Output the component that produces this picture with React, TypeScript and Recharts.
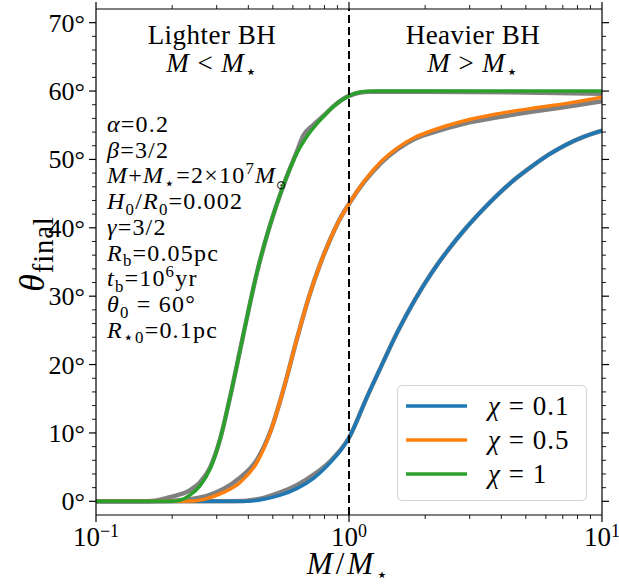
import React from 'react'
import { LineChart, Line, XAxis, YAxis, ReferenceLine, Legend } from 'recharts'

// chi = 0.1
const blueX = [0.1, 0.3, 0.396, 0.46, 0.535, 0.624, 0.726, 0.845, 0.92, 1.0, 1.07, 1.148, 1.339, 1.556, 1.816, 2.12, 2.48, 2.89, 3.37, 3.91, 4.56, 5.33, 6.22, 7.25, 8.45, 10]
const blueY = [0, 0, 0, 0.3, 0.9, 1.9, 3.4, 5.7, 7.3, 9.3, 11.6, 14.3, 19.7, 24.8, 29.4, 33.4, 36.9, 39.9, 42.6, 45.0, 47.2, 49.1, 50.8, 52.2, 53.3, 54.2]

// chi = 0.5
const orangeX = [0.1, 0.2, 0.242, 0.274, 0.319, 0.372, 0.433, 0.489, 0.552, 0.624, 0.693, 0.771, 0.845, 0.897, 1.0, 1.148, 1.339, 1.556, 1.816, 2.12, 2.89, 3.91, 5.33, 7.25, 10]
const orangeY = [0, 0, 0.05, 0.4, 1.3, 2.8, 5.7, 10.1, 16.5, 23.9, 29.8, 34.8, 38.4, 40.5, 43.5, 46.8, 49.7, 51.7, 53.2, 54.2, 55.7, 56.7, 57.5, 58.2, 59.1]

// chi = 1
const greenX = [0.1, 0.15, 0.2, 0.215, 0.235, 0.258, 0.283, 0.31, 0.34, 0.372, 0.401, 0.433, 0.474, 0.52, 0.569, 0.624, 0.683, 0.771, 0.871, 1.0, 1.13, 1.3, 1.6, 2.0, 3.0, 5.0, 10]
const greenY = [0, 0, 0, 0.15, 0.9, 2.3, 4.8, 9.2, 15.5, 22.3, 28.0, 33.5, 38.9, 43.6, 47.6, 51.0, 53.4, 55.8, 57.8, 59.3, 59.9, 60, 60, 60, 60, 60, 60]

// grey approximations drawn underneath
const grayBlueX = [0.1, 0.35, 0.46, 0.535, 0.624, 0.726, 0.845, 0.92, 1.0, 1.07, 1.148, 1.339, 1.556, 1.816, 2.12, 2.48, 2.89, 3.37, 3.91, 4.56, 5.33, 6.22, 7.25, 8.45, 10]
const grayBlueY = [0, 0, 0.5, 1.3, 2.4, 3.9, 5.9, 7.4, 9.3, 11.6, 14.3, 19.7, 24.8, 29.4, 33.4, 36.9, 39.9, 42.6, 45.0, 47.2, 49.1, 50.8, 52.2, 53.3, 54.2]
const grayOrangeX = [0.1, 0.18, 0.22, 0.274, 0.319, 0.372, 0.433, 0.489, 0.552, 0.624, 0.693, 0.771, 0.845, 0.897, 1.0, 1.148, 1.339, 1.556, 1.816, 2.12, 2.89, 3.91, 5.33, 7.25, 10]
const grayOrangeY = [0, 0, 0.2, 0.8, 1.8, 3.5, 6.1, 10.2, 16.5, 23.9, 29.8, 34.8, 38.4, 40.5, 43.5, 46.7, 49.5, 51.5, 53.0, 53.9, 55.3, 56.2, 57.0, 57.7, 58.5]
const grayGreenX = [0.1, 0.15, 0.171, 0.2, 0.235, 0.258, 0.283, 0.31, 0.34, 0.372, 0.401, 0.433, 0.474, 0.52, 0.569, 0.62, 0.66, 0.72, 0.8, 0.87, 1.0, 1.2, 2, 5, 10]
const grayGreenY = [0, 0, 0.1, 0.7, 1.6, 2.8, 5.0, 9.2, 15.5, 22.3, 28.0, 33.5, 38.9, 43.6, 47.6, 51.0, 53.5, 55.0, 56.5, 57.8, 59.3, 59.9, 59.9, 59.8, 59.6]

const xMajor = [0.1, 1, 10]
const xExp = ['\u22121', '0', '1']
const xMinor = [0.2, 0.3, 0.4, 0.5, 0.6, 0.7, 0.8, 0.9, 2, 3, 4, 5, 6, 7, 8, 9]
const yMajor = [0, 10, 20, 30, 40, 50, 60, 70]
const yMinor = [2, 4, 6, 8, 12, 14, 16, 18, 22, 24, 26, 28, 32, 34, 36, 38, 42, 44, 46, 48, 52, 54, 56, 58, 62, 64, 66, 68]

const chiLabels = ['0.1', '0.5', '1']
const colors = ['#1f77b4', '#ff7f0e', '#2ca02c']

const zip = (xs: number[], ys: number[]) => xs.map((x, i) => ({ x, y: ys[i] }))

const series = [
  { data: zip(blueX, blueY), grey: zip(grayBlueX, grayBlueY) },
  { data: zip(orangeX, orangeY), grey: zip(grayOrangeX, grayOrangeY) },
  { data: zip(greenX, greenY), grey: zip(grayGreenX, grayGreenY) },
]

const FONT = '"Liberation Serif", "Times New Roman", serif'
const xTicks = [...xMajor, ...xMinor].sort((a, b) => a - b)
const yTicks = [...yMajor, ...yMinor].sort((a, b) => a - b)
const isMajorX = (v: number) => xMajor.some(m => Math.abs(m - v) < 1e-9)

// parts: [text, flags] where flags may hold i (italic), b (subscript), p (superscript), o (tiny symbol)
type Part = [string, string?]
function Rich(props: { x: number; y: number; parts: Part[]; size: number; anchor?: string; ls?: number; transform?: string; subScale?: number }) {
  const { x, y, parts, size, anchor, ls, transform, subScale = 0.7 } = props
  let cur = 0
  return (
    <text x={x} y={y} fontSize={size} textAnchor={anchor as any} letterSpacing={ls} transform={transform}>
      {parts.map(([t, f = ''], i) => {
        const target = f.includes('b') ? size * 0.24 : f.includes('p') ? -size * 0.4 : 0
        const dy = target - cur
        cur = target
        const small = f.includes('b') || f.includes('p')
        const fs = f.includes('o') ? size * 0.5 : small ? size * subScale : size
        return (
          <tspan key={i} dy={dy || undefined} fontStyle={f.includes('i') ? 'italic' : 'normal'} fontSize={fs}>
            {t}
          </tspan>
        )
      })}
    </text>
  )
}

function BottomTick(props: any) {
  const { x, y, payload } = props
  const v = payload.value
  const major = isMajorX(v)
  const idx = xMajor.findIndex(m => Math.abs(m - v) < 1e-9)
  return (
    <g>
      <line x1={x} x2={x} y1={y} y2={y + (major ? 7 : 4)} stroke="#000" strokeWidth={major ? 1.2 : 0.9} />
      {major && (
        <text x={x} y={y + 31} textAnchor="middle" fontFamily={FONT} fontSize={27} fill="#000">
          10<tspan dy={-9} fontSize={18}>{xExp[idx]}</tspan>
        </text>
      )}
    </g>
  )
}

function TopTick(props: any) {
  const { x, y, payload } = props
  const major = isMajorX(payload.value)
  return <line x1={x} x2={x} y1={y} y2={y - (major ? 7 : 4)} stroke="#000" strokeWidth={major ? 1.2 : 0.9} />
}

function LeftTick(props: any) {
  const { x, y, payload } = props
  const v = payload.value
  const major = v % 10 === 0
  return (
    <g>
      <line x1={x} x2={x - (major ? 7 : 4)} y1={y} y2={y} stroke="#000" strokeWidth={major ? 1.2 : 0.9} />
      {major && (
        <text x={x - 11} y={y + 9} textAnchor="end" fontFamily={FONT} fontSize={26} fill="#000">
          {v}°
        </text>
      )}
    </g>
  )
}

function RightTick(props: any) {
  const { x, y, payload } = props
  const major = payload.value % 10 === 0
  return <line x1={x} x2={x + (major ? 7 : 4)} y1={y} y2={y} stroke="#000" strokeWidth={major ? 1.2 : 0.9} />
}

function LegendBox() {
  return (
    <div style={{ width: 190, height: 116, boxSizing: 'border-box', border: '1px solid #d4d4d4', borderRadius: 5, background: 'rgba(255,255,255,0.8)' }}>
      <svg width={188} height={114} style={{ display: 'block' }}>
        {chiLabels.map((c, i) => (
          <g key={c}>
            <line x1={8} x2={69} y1={20 + 34 * i} y2={20 + 34 * i} stroke={colors[i]} strokeWidth={3.5} />
            <text x={90} y={29 + 34 * i} fontFamily={FONT} fontSize={27} fill="#000" letterSpacing={1}>
              <tspan fontStyle="italic">χ</tspan>{' = '}{c}
            </text>
          </g>
        ))}
      </svg>
    </div>
  )
}

const params: Part[][] = [
  [['α', 'i'], ['=0.2']],
  [['β', 'i'], ['=3/2']],
  [['M', 'i'], ['+'], ['M', 'i'], ['⋆', 'b'], ['=2×10'], ['7', 'p'], ['M', 'i'], ['⊙', 'bo']],
  [['H', 'i'], ['0', 'b'], ['/'], ['R', 'i'], ['0', 'b'], ['=0.002']],
  [['γ', 'i'], ['=3/2']],
  [['R', 'i'], ['b', 'b'], ['=0.05pc']],
  [['t', 'i'], ['b', 'b'], ['=10'], ['6', 'p'], ['yr']],
  [['θ', 'i'], ['0', 'b'], [' = 60°']],
  [['R', 'i'], ['⋆0', 'b'], ['=0.1pc']],
]

export default function App() {
  const px = 107
  const py = 132
  const lh = 25.7
  return (
    <div style={{ position: 'absolute', left: 0, top: 0, width: 619, height: 588, background: '#fff' }}>
      <LineChart width={619} height={588} margin={{ top: 0, right: 0, bottom: 0, left: 0 }}>
        <XAxis dataKey="x" type="number" scale="log" domain={[0.1, 10]} allowDataOverflow ticks={xTicks} interval={0}
          tickSize={0} tickMargin={0} tick={<BottomTick />} height={73} axisLine={{ stroke: '#000', strokeWidth: 1.2 }} />
        <XAxis xAxisId="top" orientation="top" dataKey="x" type="number" scale="log" domain={[0.1, 10]} allowDataOverflow ticks={xTicks} interval={0}
          tickSize={0} tickMargin={0} tick={<TopTick />} height={9} axisLine={{ stroke: '#000', strokeWidth: 1.2 }} />
        <YAxis type="number" domain={[-2, 72]} allowDataOverflow ticks={yTicks} interval={0}
          tickSize={0} tickMargin={0} tick={<LeftTick />} width={96} axisLine={{ stroke: '#000', strokeWidth: 1.2 }} />
        <YAxis yAxisId="right" orientation="right" type="number" domain={[-2, 72]} allowDataOverflow ticks={yTicks} interval={0}
          tickSize={0} tickMargin={0} tick={<RightTick />} width={17} axisLine={{ stroke: '#000', strokeWidth: 1.2 }} />
        {series.map((s, i) => (
          <Line key={'g' + i} data={s.grey} dataKey="y" type="monotoneX" stroke="#808080" strokeWidth={4.5}
            dot={false} isAnimationActive={false} legendType="none" />
        ))}
        {series.map((s, i) => (
          <Line key={'c' + i} data={s.data} dataKey="y" type="monotoneX" stroke={colors[i]} strokeWidth={3.5}
            dot={false} isAnimationActive={false} />
        ))}
        <ReferenceLine x={1} stroke="#000" strokeWidth={2} strokeDasharray="8 4" />
        <Legend layout="vertical" verticalAlign="middle" align="center" content={<LegendBox />}
          wrapperStyle={{ position: 'absolute', left: 397, top: 385, width: 190, height: 116 }} />
      </LineChart>
      <svg width={619} height={588} style={{ position: 'absolute', left: 0, top: 0, pointerEvents: 'none' }}
        fontFamily={FONT} fill="#000">
        <text x={212} y={44} textAnchor="middle" fontSize={27} letterSpacing={0.5}>Lighter BH</text>
        <Rich x={212} y={72} size={27} anchor="middle" ls={1} parts={[['M', 'i'], [' < '], ['M', 'i'], ['⋆', 'b']]} />
        <text x={473} y={44} textAnchor="middle" fontSize={27} letterSpacing={0.5}>Heavier BH</text>
        <Rich x={473} y={72} size={27} anchor="middle" ls={1} parts={[['M', 'i'], [' > '], ['M', 'i'], ['⋆', 'b']]} />

        {params.map((p, i) => (
          <Rich key={i} x={px} y={py + i * lh} size={24} ls={1.2} parts={p} />
        ))}

        <Rich x={349} y={574} size={31} anchor="middle" ls={3} subScale={0.6} parts={[['M', 'i'], ['/'], ['M', 'i'], ['⋆', 'b']]} />
        <Rich x={0} y={0} size={36} anchor="middle" ls={0.8} subScale={0.8} transform="translate(44,254) rotate(-90)"
          parts={[['θ', 'i'], ['final', 'b']]} />
      </svg>
    </div>
  )
}
